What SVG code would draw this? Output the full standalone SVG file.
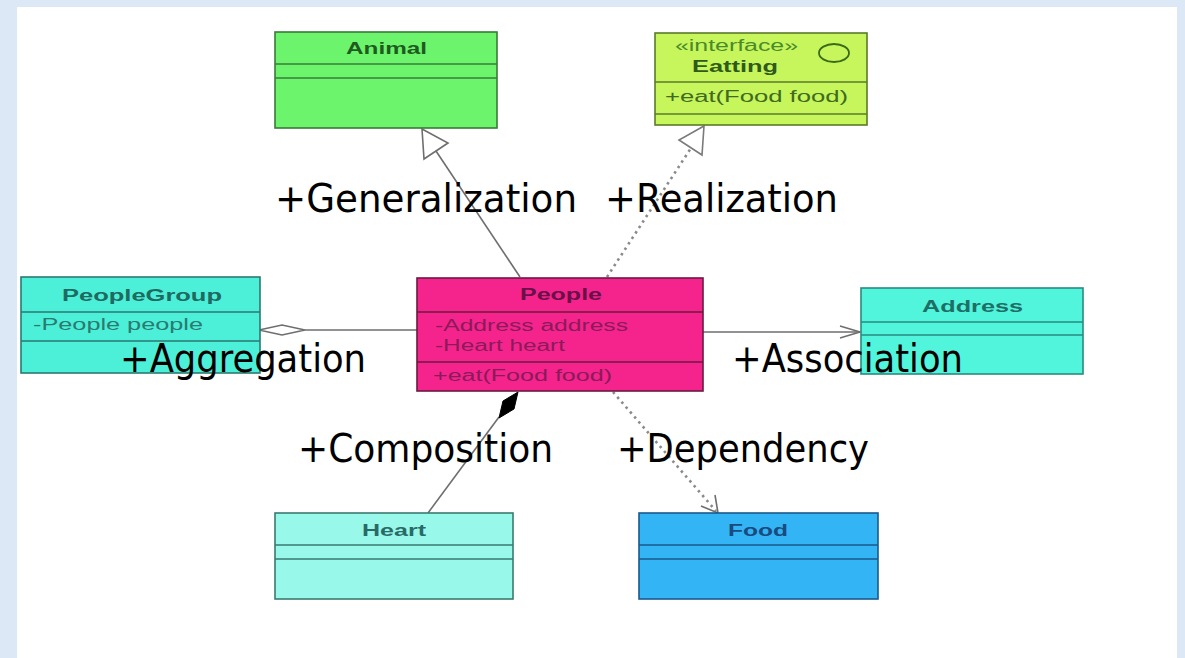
<svg xmlns="http://www.w3.org/2000/svg" width="1185" height="658" viewBox="0 0 1185 658">
<style>
.name{font-family:"Liberation Sans",Arial,sans-serif;font-weight:bold;font-size:16px}
.attr{font-family:"Liberation Sans",Arial,sans-serif;font-size:16px}
.lbl{font-family:"DejaVu Sans Condensed","DejaVu Sans",sans-serif;font-size:39px;fill:#000}
.ln{stroke:#6e6e6e;stroke-width:1.6;fill:none}
.dot{stroke:#8a8a8a;stroke-width:2.6;stroke-dasharray:2.5 4;fill:none}
.box{stroke-width:1.6}
</style>
<rect x="0" y="0" width="1185" height="658" fill="#dce8f5"/>
<rect x="17" y="7" width="1160" height="651" fill="#ffffff"/>

<g id="connectors">
  <!-- Generalization -->
  <line class="ln" x1="520" y1="277" x2="436" y2="151"/>
  <polygon points="422,129 448,143 424,159" fill="#ffffff" stroke="#6e6e6e" stroke-width="1.6"/>
  <!-- Realization -->
  <line class="dot" x1="607" y1="277" x2="691" y2="148"/>
  <polygon points="704,126 702,155 679,140" fill="#ffffff" stroke="#7a7a7a" stroke-width="1.6"/>
  <!-- Aggregation -->
  <line class="ln" x1="417" y1="330" x2="305" y2="330"/>
  <polygon points="259,330 282,325 305,330 282,335" fill="#ffffff" stroke="#6e6e6e" stroke-width="1.6"/>
  <!-- Association -->
  <line class="ln" x1="703" y1="332" x2="860" y2="332"/>
  <polyline class="ln" points="840,326 860,332 840,338"/>
  <!-- Composition -->
  <line class="ln" x1="428" y1="513" x2="499" y2="417"/>
  <polygon points="518,392 514,409 499,418 503,401" fill="#000000" stroke="#000000" stroke-width="1"/>
  <!-- Dependency -->
  <line class="dot" x1="613" y1="392" x2="716" y2="511"/>
  <polyline class="ln" points="701,506 718,513 715,495" stroke="#7a7a7a"/>
</g>

<g id="animal">
  <rect class="box" x="275" y="32" width="222" height="96" fill="#6cf56c" stroke="#3a7a3a"/>
  <line x1="275" y1="64" x2="497" y2="64" stroke="#3a7a3a" stroke-width="1.6"/>
  <line x1="275" y1="78" x2="497" y2="78" stroke="#3a7a3a" stroke-width="1.6"/>
  <text class="name" x="346" y="54" fill="#1f5a1f" textLength="81" lengthAdjust="spacingAndGlyphs">Animal</text>
</g>

<g id="eatting">
  <rect class="box" x="655" y="33" width="212" height="92" fill="#c6f55c" stroke="#5a7a2a"/>
  <line x1="655" y1="82" x2="867" y2="82" stroke="#5a7a2a" stroke-width="1.6"/>
  <line x1="655" y1="114" x2="867" y2="114" stroke="#5a7a2a" stroke-width="1.6"/>
  <text class="attr" x="675" y="51" font-size="14" fill="#4a8a2a" textLength="123" lengthAdjust="spacingAndGlyphs">«interface»</text>
  <ellipse cx="834" cy="53" rx="15" ry="9" fill="none" stroke="#3a6a1a" stroke-width="1.8"/>
  <text class="name" x="692" y="72" fill="#2f5a1a" textLength="86" lengthAdjust="spacingAndGlyphs">Eatting</text>
  <text class="attr" x="665" y="102" fill="#3f6a1f" textLength="183" lengthAdjust="spacingAndGlyphs">+eat(Food food)</text>
</g>

<g id="peoplegroup">
  <rect class="box" x="21" y="277" width="239" height="96" fill="#4cf0d8" stroke="#2a7a70"/>
  <line x1="21" y1="312" x2="260" y2="312" stroke="#2a7a70" stroke-width="1.6"/>
  <line x1="21" y1="341" x2="260" y2="341" stroke="#2a7a70" stroke-width="1.6"/>
  <text class="name" x="62" y="301" fill="#1f6a60" textLength="160" lengthAdjust="spacingAndGlyphs">PeopleGroup</text>
  <text class="attr" x="33" y="330" fill="#2a7a70" textLength="170" lengthAdjust="spacingAndGlyphs">-People people</text>
</g>

<g id="people">
  <rect class="box" x="417" y="278" width="286" height="113" fill="#f5248c" stroke="#6a1a40"/>
  <line x1="417" y1="312" x2="703" y2="312" stroke="#6a1a40" stroke-width="1.6"/>
  <line x1="417" y1="362" x2="703" y2="362" stroke="#6a1a40" stroke-width="1.6"/>
  <text class="name" x="520" y="300" fill="#6a1048" textLength="82" lengthAdjust="spacingAndGlyphs">People</text>
  <text class="attr" x="435" y="331" fill="#8a1a5a" textLength="193" lengthAdjust="spacingAndGlyphs">-Address address</text>
  <text class="attr" x="435" y="351" fill="#8a1a5a" textLength="130" lengthAdjust="spacingAndGlyphs">-Heart heart</text>
  <text class="attr" x="433" y="381" fill="#8a1a5a" textLength="179" lengthAdjust="spacingAndGlyphs">+eat(Food food)</text>
</g>

<g id="address">
  <rect class="box" x="861" y="288" width="222" height="86" fill="#50f5dc" stroke="#2a8a80"/>
  <line x1="861" y1="322" x2="1083" y2="322" stroke="#2a8a80" stroke-width="1.6"/>
  <line x1="861" y1="335" x2="1083" y2="335" stroke="#2a8a80" stroke-width="1.6"/>
  <text class="name" x="922" y="312" fill="#1f6e66" textLength="101" lengthAdjust="spacingAndGlyphs">Address</text>
</g>

<g id="heart">
  <rect class="box" x="275" y="513" width="238" height="86" fill="#98f8ea" stroke="#3a7a70"/>
  <line x1="275" y1="545" x2="513" y2="545" stroke="#3a7a70" stroke-width="1.6"/>
  <line x1="275" y1="559" x2="513" y2="559" stroke="#3a7a70" stroke-width="1.6"/>
  <text class="name" x="362" y="536" fill="#2a6a66" textLength="64" lengthAdjust="spacingAndGlyphs">Heart</text>
</g>

<g id="food">
  <rect class="box" x="639" y="513" width="239" height="86" fill="#33b5f5" stroke="#1a5a8a"/>
  <line x1="639" y1="545" x2="878" y2="545" stroke="#1a5a8a" stroke-width="1.6"/>
  <line x1="639" y1="559" x2="878" y2="559" stroke="#1a5a8a" stroke-width="1.6"/>
  <text class="name" x="728" y="536" fill="#1a4a80" textLength="60" lengthAdjust="spacingAndGlyphs">Food</text>
</g>

<g id="labels">
  <text class="lbl" x="275" y="212" textLength="302" lengthAdjust="spacingAndGlyphs">+Generalization</text>
  <text class="lbl" x="605" y="212" textLength="233" lengthAdjust="spacingAndGlyphs">+Realization</text>
  <text class="lbl" x="120" y="372" font-size="36" textLength="246" lengthAdjust="spacingAndGlyphs">+Aggregation</text>
  <text class="lbl" x="732" y="372" font-size="36" textLength="231" lengthAdjust="spacingAndGlyphs">+Association</text>
  <text class="lbl" x="298" y="462" textLength="255" lengthAdjust="spacingAndGlyphs">+Composition</text>
  <text class="lbl" x="617" y="462" textLength="252" lengthAdjust="spacingAndGlyphs">+Dependency</text>
</g>
</svg>
